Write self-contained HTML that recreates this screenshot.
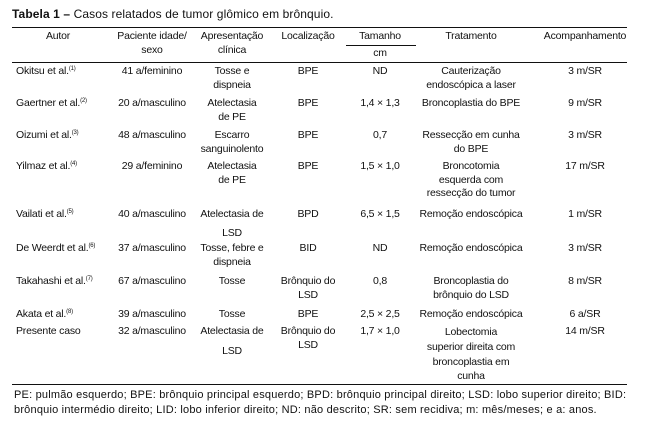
<!DOCTYPE html>
<html><head><meta charset="utf-8"><style>
body{margin:0;background:#fff;width:649px;height:434px;position:relative;overflow:hidden;font-family:"Liberation Sans",sans-serif;font-size:10.5px;letter-spacing:-0.2px;color:#111}
.t{position:absolute;white-space:nowrap;line-height:13.5px}
.c{position:absolute;width:140px;text-align:center;white-space:nowrap;line-height:13.5px}
.l{position:absolute;left:12px;height:1px;background:#111;width:615px}
sup{font-size:6px;line-height:0;vertical-align:4px}
</style></head><body>
<div class="t" style="left:12px;top:8px;font-size:12px;letter-spacing:0.1px"><b>Tabela 1 –</b> Casos relatados de tumor glômico em brônquio.</div>
<div class="l" style="top:27px"></div>
<div class="l" style="top:62px"></div>
<div class="l" style="top:384px"></div>
<div style="position:absolute;left:346px;top:45px;width:70px;height:1px;background:#111"></div>
<div class="c" style="left:-12px;top:30px">Autor</div>
<div class="c" style="left:82px;top:30px">Paciente idade/<br>sexo</div>
<div class="c" style="left:162px;top:30px">Apresentação<br>clínica</div>
<div class="c" style="left:238px;top:30px">Localização</div>
<div class="c" style="left:310px;top:30px">Tamanho</div>
<div class="c" style="left:310px;top:47px">cm</div>
<div class="c" style="left:401px;top:30px">Tratamento</div>
<div class="c" style="left:515px;top:30px">Acompanhamento</div>
<div class="t" style="left:16px;top:65px">Okitsu et al.<sup>(1)</sup></div>
<div class="t" style="left:16px;top:97px">Gaertner et al.<sup>(2)</sup></div>
<div class="t" style="left:16px;top:129px">Oizumi et al.<sup>(3)</sup></div>
<div class="t" style="left:16px;top:160px">Yilmaz et al.<sup>(4)</sup></div>
<div class="t" style="left:16px;top:208px">Vailati et al.<sup>(5)</sup></div>
<div class="t" style="left:16px;top:242px">De Weerdt et al.<sup>(6)</sup></div>
<div class="t" style="left:16px;top:275px">Takahashi et al.<sup>(7)</sup></div>
<div class="t" style="left:16px;top:308px">Akata et al.<sup>(8)</sup></div>
<div class="t" style="left:16px;top:325px">Presente caso</div>
<div class="c" style="left:82px;top:65px">41 a/feminino</div>
<div class="c" style="left:82px;top:97px">20 a/masculino</div>
<div class="c" style="left:82px;top:129px">48 a/masculino</div>
<div class="c" style="left:82px;top:160px">29 a/feminino</div>
<div class="c" style="left:82px;top:208px">40 a/masculino</div>
<div class="c" style="left:82px;top:242px">37 a/masculino</div>
<div class="c" style="left:82px;top:275px">67 a/masculino</div>
<div class="c" style="left:82px;top:308px">39 a/masculino</div>
<div class="c" style="left:82px;top:325px">32 a/masculino</div>
<div class="c" style="left:162px;top:65px">Tosse e<br>dispneia</div>
<div class="c" style="left:162px;top:97px">Atelectasia<br>de PE</div>
<div class="c" style="left:162px;top:129px">Escarro<br>sanguinolento</div>
<div class="c" style="left:162px;top:160px">Atelectasia<br>de PE</div>
<div class="c" style="left:162px;top:208px">Atelectasia de</div>
<div class="c" style="left:162px;top:227px">LSD</div>
<div class="c" style="left:162px;top:242px">Tosse, febre e<br>dispneia</div>
<div class="c" style="left:162px;top:275px">Tosse</div>
<div class="c" style="left:162px;top:308px">Tosse</div>
<div class="c" style="left:162px;top:325px">Atelectasia de</div>
<div class="c" style="left:162px;top:345px">LSD</div>
<div class="c" style="left:238px;top:65px">BPE</div>
<div class="c" style="left:238px;top:97px">BPE</div>
<div class="c" style="left:238px;top:129px">BPE</div>
<div class="c" style="left:238px;top:160px">BPE</div>
<div class="c" style="left:238px;top:208px">BPD</div>
<div class="c" style="left:238px;top:242px">BID</div>
<div class="c" style="left:238px;top:275px">Brônquio do<br>LSD</div>
<div class="c" style="left:238px;top:308px">BPE</div>
<div class="c" style="left:238px;top:325px">Brônquio do<br>LSD</div>
<div class="c" style="left:310px;top:65px">ND</div>
<div class="c" style="left:310px;top:97px">1,4 × 1,3</div>
<div class="c" style="left:310px;top:129px">0,7</div>
<div class="c" style="left:310px;top:160px">1,5 × 1,0</div>
<div class="c" style="left:310px;top:208px">6,5 × 1,5</div>
<div class="c" style="left:310px;top:242px">ND</div>
<div class="c" style="left:310px;top:275px">0,8</div>
<div class="c" style="left:310px;top:308px">2,5 × 2,5</div>
<div class="c" style="left:310px;top:325px">1,7 × 1,0</div>
<div class="c" style="left:401px;top:65px">Cauterização<br>endoscópica a laser</div>
<div class="c" style="left:401px;top:97px">Broncoplastia do BPE</div>
<div class="c" style="left:401px;top:129px">Ressecção em cunha<br>do BPE</div>
<div class="c" style="left:401px;top:160px">Broncotomia<br>esquerda com<br>ressecção do tumor</div>
<div class="c" style="left:401px;top:208px">Remoção endoscópica</div>
<div class="c" style="left:401px;top:242px">Remoção endoscópica</div>
<div class="c" style="left:401px;top:275px">Broncoplastia do<br>brônquio do LSD</div>
<div class="c" style="left:401px;top:308px">Remoção endoscópica</div>
<div class="c" style="left:401px;top:325px;line-height:14.8px">Lobectomia<br>superior direita com<br>broncoplastia em<br>cunha</div>
<div class="c" style="left:515px;top:65px">3 m/SR</div>
<div class="c" style="left:515px;top:97px">9 m/SR</div>
<div class="c" style="left:515px;top:129px">3 m/SR</div>
<div class="c" style="left:515px;top:160px">17 m/SR</div>
<div class="c" style="left:515px;top:208px">1 m/SR</div>
<div class="c" style="left:515px;top:242px">3 m/SR</div>
<div class="c" style="left:515px;top:275px">8 m/SR</div>
<div class="c" style="left:515px;top:308px">6 a/SR</div>
<div class="c" style="left:515px;top:325px">14 m/SR</div>
<div class="t" style="left:14px;top:388px;line-height:15px;font-size:11px;letter-spacing:0.2px">PE: pulmão esquerdo; BPE: brônquio principal esquerdo; BPD: brônquio principal direito; LSD: lobo superior direito; BID:<br>brônquio intermédio direito; LID: lobo inferior direito; ND: não descrito; SR: sem recidiva; m: mês/meses; e a: anos.</div>
</body></html>
